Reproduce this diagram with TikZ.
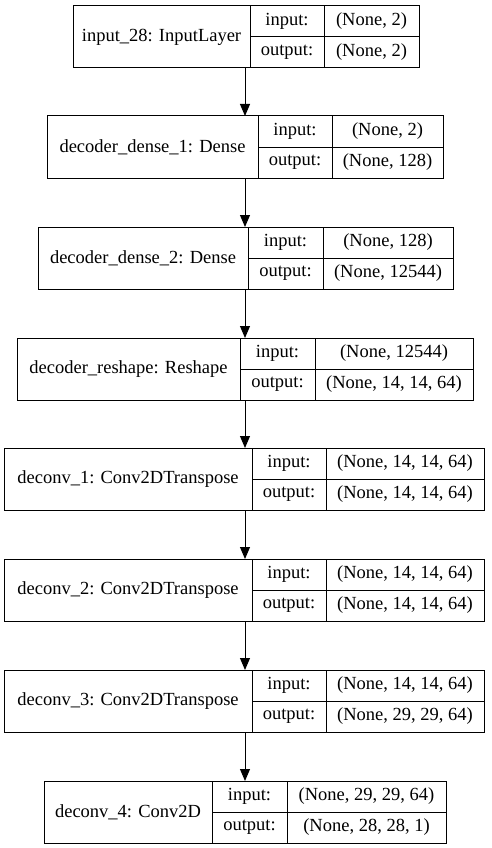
\documentclass[tikz,border=0pt]{standalone}
\usepackage{fontspec}
\setmainfont{Liberation Serif}
\usetikzlibrary{arrows.meta}
\tikzset{
  cell/.style={draw=black, line width=1pt, inner sep=0pt, outer sep=0pt, font=\fontsize{18.5}{22}\selectfont},
  box/.style={inner sep=0pt, outer sep=0pt, minimum height=62},
  arr/.style={draw=black, line width=1pt, -{Triangle[length=12pt,width=10pt]}}
}
\newcommand\mylayer[9]{%
  \node[box, minimum width={#6-#3}, anchor=north west] (#1) at (#3,#2) {};
  \node[cell, minimum width={#4-#3}, minimum height=62, anchor=north west] (#1n) at (#3,#2) {#7};
  \node[cell, minimum width={#5-#4}, minimum height=31, anchor=north west] (#1i) at (#4,#2) {input:};
  \node[cell, minimum width={#5-#4}, minimum height=31, anchor=north west] (#1o) at ({#4},{#2+31}) {output:};
  \node[cell, minimum width={#6-#5}, minimum height=31, anchor=north west] (#1iv) at (#5,#2) {#8};
  \node[cell, minimum width={#6-#5}, minimum height=31, anchor=north west] (#1ov) at ({#5},{#2+31}) {#9};
}
\begin{document}
\begin{tikzpicture}[x=1pt,y=-1pt]
\useasboundingbox[fill=white] (0,0) rectangle (491,848);
\coordinate (ax) at (245,0);
\mylayer{L1}{6}{73}{250}{324}{419}{input\_28: InputLayer}{(None, 2)}{(None, 2)}
\mylayer{L2}{116}{47}{258}{332}{443}{decoder\_dense\_1: Dense}{(None, 2)}{(None, 128)}
\mylayer{L3}{227}{38}{248}{323}{453}{decoder\_dense\_2: Dense}{(None, 128)}{(None, 12544)}
\mylayer{L4}{338}{17}{240}{315}{473}{decoder\_reshape: Reshape}{(None, 12544)}{(None, 14, 14, 64)}
\mylayer{L5}{448}{4}{252}{326}{484}{deconv\_1: Conv2DTranspose}{(None, 14, 14, 64)}{(None, 14, 14, 64)}
\mylayer{L6}{559}{4}{252}{326}{484}{deconv\_2: Conv2DTranspose}{(None, 14, 14, 64)}{(None, 14, 14, 64)}
\mylayer{L7}{670}{4}{252}{326}{484}{deconv\_3: Conv2DTranspose}{(None, 14, 14, 64)}{(None, 29, 29, 64)}
\mylayer{L8}{781}{44}{212}{287}{446}{deconv\_4: Conv2D}{(None, 29, 29, 64)}{(None, 28, 28, 1)}
\foreach \a/\b in {L1/L2,L2/L3,L3/L4,L4/L5,L5/L6,L6/L7,L7/L8}
  \draw[arr] (\a.south -| ax) -- (\b.north -| ax);
\end{tikzpicture}
\end{document}
